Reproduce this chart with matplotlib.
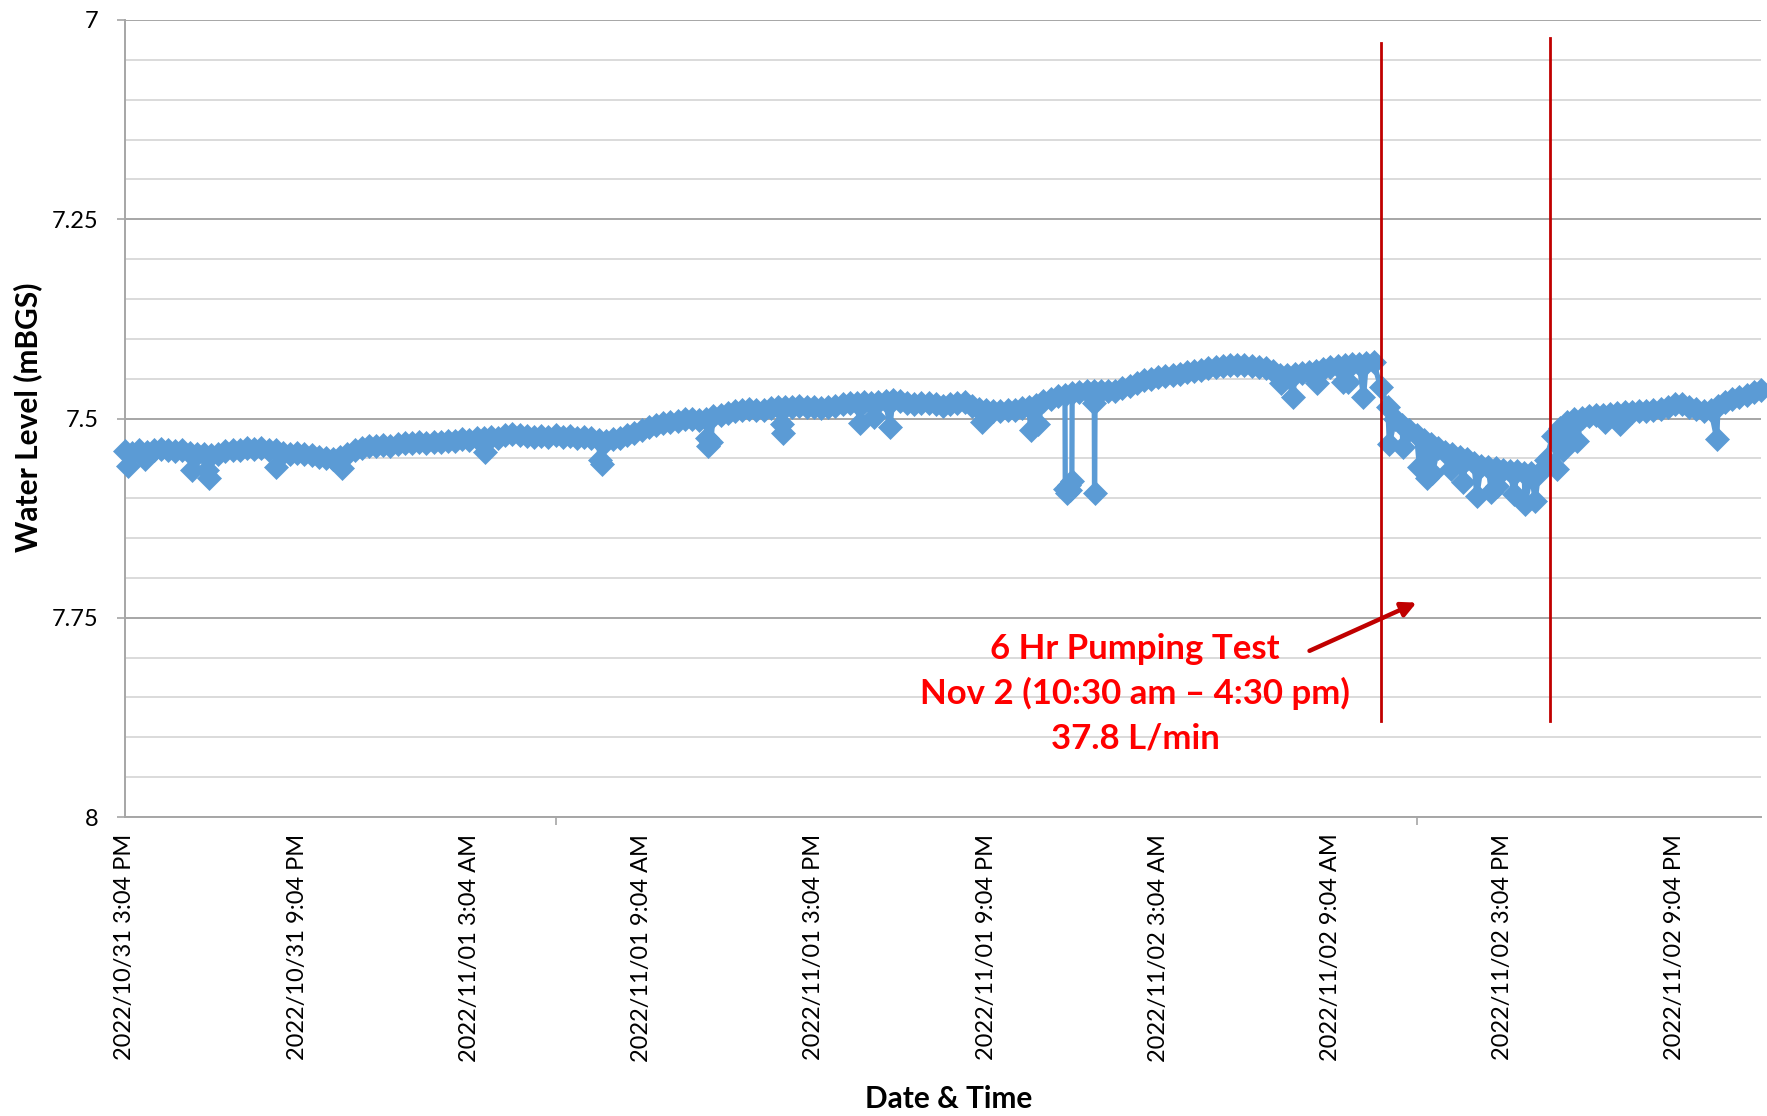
import matplotlib
matplotlib.use("Agg")
import matplotlib.pyplot as plt
from matplotlib.ticker import FixedLocator, MultipleLocator, NullFormatter
import numpy as np

# Water level (mBGS) logged every 15 minutes, hours after 2022/10/31 3:04 PM
interval_h = 0.25
level_15min = [
    7.541, 7.543, 7.540, 7.542,
    7.540, 7.538, 7.539, 7.541,
    7.540, 7.543, 7.545, 7.544,
    7.546, 7.545, 7.541, 7.540,
    7.539, 7.537, 7.538, 7.537,
    7.539, 7.540, 7.543, 7.545,
    7.543, 7.544, 7.546, 7.548,
    7.549, 7.551, 7.548, 7.545,
    7.540, 7.537, 7.535, 7.534,
    7.533, 7.534, 7.532, 7.531,
    7.531, 7.530, 7.531, 7.529,
    7.530, 7.528, 7.528, 7.526,
    7.527, 7.525, 7.524, 7.523,
    7.524, 7.521, 7.520, 7.521,
    7.522, 7.523, 7.522, 7.523,
    7.521, 7.523, 7.522, 7.524,
    7.523, 7.525, 7.527, 7.528,
    7.526, 7.524, 7.521, 7.518,
    7.514, 7.511, 7.508, 7.506,
    7.505, 7.503, 7.501, 7.500,
    7.502, 7.501, 7.497, 7.495,
    7.493, 7.491, 7.489, 7.488,
    7.489, 7.489, 7.487, 7.486,
    7.486, 7.485, 7.484, 7.485,
    7.486, 7.487, 7.485, 7.484,
    7.482, 7.481, 7.480, 7.479,
    7.480, 7.479, 7.478, 7.477,
    7.478, 7.480, 7.482, 7.481,
    7.481, 7.482, 7.484, 7.482,
    7.480, 7.479, 7.484, 7.488,
    7.489, 7.490, 7.491, 7.489,
    7.489, 7.487, 7.486, 7.483,
    7.478, 7.475, 7.472, 7.470,
    7.468, 7.467, 7.466, 7.465,
    7.465, 7.466, 7.465, 7.462,
    7.459, 7.455, 7.452, 7.450,
    7.448, 7.447, 7.445, 7.444,
    7.442, 7.441, 7.439, 7.437,
    7.436, 7.434, 7.433, 7.433,
    7.433, 7.434, 7.435, 7.437,
    7.440, 7.445, 7.446, 7.444,
    7.443, 7.442, 7.441, 7.438,
    7.436, 7.434, 7.433, 7.432,
    7.431, 7.430, 7.429, 7.461,
    7.485, 7.500, 7.508, 7.515,
    7.521, 7.527, 7.532, 7.537,
    7.542, 7.545, 7.548, 7.551,
    7.556, 7.559, 7.561, 7.562,
    7.564, 7.566, 7.566, 7.568,
    7.568, 7.569, 7.552, 7.522,
    7.512, 7.505, 7.501, 7.499,
    7.497, 7.496, 7.495, 7.494,
    7.493, 7.492, 7.492, 7.490,
    7.490, 7.489, 7.488, 7.486,
    7.482, 7.482, 7.485, 7.488,
    7.490, 7.489, 7.484, 7.479,
    7.476, 7.473, 7.470, 7.467,
    7.464,
]

# Readings between the regular intervals: short drops and sensor spikes
extra_hours = [
    0.10, 0.70, 2.33, 2.85, 2.92, 5.26, 7.56, 12.54, 16.55, 16.62,
    20.27, 20.32, 20.40, 22.88, 22.92, 25.60, 26.10, 26.65, 29.85, 31.55,
    31.80,
    32.76, 32.82, 32.88, 32.93, 32.99, 33.77, 33.78, 33.80,
    40.27, 40.70, 41.52, 42.45, 42.60, 43.15, 44.05, 44.52, 45.10, 45.35,
    45.55, 46.20, 46.60, 47.10, 47.60, 47.80, 48.40, 48.78, 49.13, 49.90,
    50.10, 50.35, 50.60, 51.55, 52.10, 55.46,
]
extra_levels = [
    7.559, 7.551, 7.564, 7.565, 7.575, 7.561, 7.562, 7.5415, 7.552, 7.557,
    7.524, 7.534, 7.530, 7.507, 7.518, 7.506, 7.498, 7.511, 7.504, 7.515,
    7.507,
    7.588, 7.594, 7.583, 7.590, 7.578, 7.481, 7.594, 7.468,
    7.456, 7.473, 7.456, 7.454, 7.454, 7.473, 7.532, 7.536, 7.561, 7.575,
    7.568, 7.563, 7.580, 7.597, 7.5925, 7.585, 7.5946, 7.607, 7.603, 7.563,
    7.540, 7.527, 7.528, 7.505, 7.507, 7.5255,
]

# Axis labelling
label_hours = [0, 6, 12, 18, 24, 30, 36, 42, 48, 54]
x_tick_labels = [
    "2022/10/31 3:04 PM", "2022/10/31 9:04 PM", "2022/11/01 3:04 AM",
    "2022/11/01 9:04 AM", "2022/11/01 3:04 PM", "2022/11/01 9:04 PM",
    "2022/11/02 3:04 AM", "2022/11/02 9:04 AM", "2022/11/02 3:04 PM",
    "2022/11/02 9:04 PM",
]
tick_mark_hours = [0, 15, 30, 45]
y_ticks = [7, 7.25, 7.5, 7.75, 8]
y_tick_labels = ["7", "7.25", "7.5", "7.75", "8"]

# Pumping test window markers and note
pump_on_h, pump_off_h = 43.75, 49.65
note_lines = ["6 Hr Pumping Test", "Nov 2 (10:30 am \u2013 4:30 pm)", "37.8 L/min"]

FONT = "Lato"
BLUE = "#5B9BD5"
DARK_RED = "#C00000"

# merge regular and extra readings in time order
base_hours = np.arange(len(level_15min)) * interval_h
hours = np.concatenate([base_hours, np.array(extra_hours)])
levels = np.concatenate([np.array(level_15min), np.array(extra_levels)])
order = np.argsort(hours, kind="stable")
hours, levels = hours[order], levels[order]

fig = plt.figure(figsize=(17.67, 11.16), dpi=100)
ax = fig.add_axes([125 / 1767, 1 - 817 / 1116, (1761 - 125) / 1767, (817 - 20) / 1116])

ax.set_xlim(0, 57)
ax.set_ylim(8, 7)

# y axis: labelled every 0.25, light grid every 0.05
ax.yaxis.set_major_locator(FixedLocator(y_ticks))
ax.set_yticklabels(y_tick_labels)
ax.yaxis.set_minor_locator(MultipleLocator(0.05))
ax.grid(which="major", axis="y", color="#a6a6a6", lw=1.4, zorder=0)
ax.grid(which="minor", axis="y", color="#d4d4d4", lw=1.2, zorder=0)
ax.tick_params(axis="y", which="major", length=6, width=1.2, color="#a6a6a6",
               pad=13, labelsize=17)
ax.tick_params(axis="y", which="minor", length=0)

# x axis: rotated date labels, separate tick marks every 15 h
ax.xaxis.set_major_locator(FixedLocator(label_hours))
ax.set_xticklabels(x_tick_labels, rotation=90, va="top", ha="center")
ax.xaxis.set_minor_locator(FixedLocator(tick_mark_hours))
ax.xaxis.set_minor_formatter(NullFormatter())
ax.tick_params(axis="x", which="major", length=0, pad=12, labelsize=17)
ax.tick_params(axis="x", which="minor", length=6, width=1.2, color="#a6a6a6")

for lab in ax.get_xticklabels() + ax.get_yticklabels():
    lab.set_fontfamily(FONT)

for side in ("top", "right"):
    ax.spines[side].set_visible(False)
for side in ("left", "bottom"):
    ax.spines[side].set_color("#a6a6a6")
    ax.spines[side].set_linewidth(1.4)

ax.plot(hours, levels, color=BLUE, lw=3.8, marker="D", ms=12.5,
        mec=BLUE, mew=0.5, clip_on=False, zorder=3)

# pumping start / stop lines
xt = ax.get_xaxis_transform()
ax.plot([pump_on_h, pump_on_h], [0.120, 0.971], transform=xt, color=DARK_RED, lw=2, zorder=4)
ax.plot([pump_off_h, pump_off_h], [0.120, 0.977], transform=xt, color=DARK_RED, lw=2, zorder=4)

ax.annotate("", xy=(45.0, 7.731), xytext=(41.27, 7.7915),
            arrowprops=dict(arrowstyle="-|>", color=DARK_RED, lw=3.2,
                            mutation_scale=22, shrinkA=0, shrinkB=0), zorder=5)

for txt, base_y in zip(note_lines, [7.8015, 7.8580, 7.9146]):
    ax.text(35.19, base_y, txt, ha="center", va="baseline", color="#FF0000",
            fontsize=25, fontweight="bold", family=FONT, zorder=5)

fig.text(28 / 1767, 1 - 417 / 1116, "Water Level (mBGS)", rotation=90,
         ha="center", va="center", fontsize=21.5, fontweight="bold", family=FONT)
fig.text(949 / 1767, 1 - 1099 / 1116, "Date & Time", ha="center", va="center",
         fontsize=21.5, fontweight="bold", family=FONT)

fig.savefig("out.png", dpi=100, facecolor="white")
